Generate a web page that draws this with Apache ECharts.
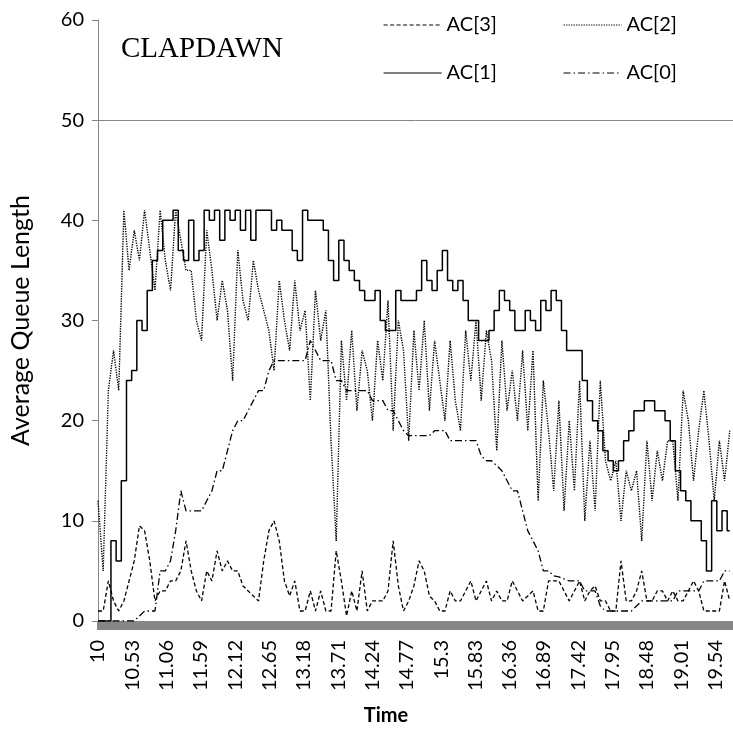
<!DOCTYPE html>
<html>
<head>
<meta charset="utf-8">
<script src="https://cdn.jsdelivr.net/npm/echarts@6/dist/echarts.min.js"></script>
<style>html,body{margin:0;padding:0;background:#fff}#c{width:733px;height:738px}</style>
</head>
<body>
<div id="c"></div>
<script>
// Time (hours) of each sample
const times = [10.00,10.08,10.16,10.24,10.32,10.40,10.48,10.56,10.64,10.72,
10.80,10.88,10.96,11.04,11.12,11.20,11.28,11.36,11.44,11.52,
11.60,11.68,11.76,11.84,11.92,12.00,12.08,12.16,12.24,12.32,
12.40,12.48,12.56,12.64,12.72,12.80,12.88,12.96,13.04,13.12,
13.20,13.28,13.36,13.44,13.52,13.60,13.68,13.76,13.84,13.92,
14.00,14.08,14.16,14.24,14.32,14.40,14.48,14.56,14.64,14.72,
14.80,14.88,14.96,15.04,15.12,15.20,15.28,15.36,15.44,15.52,
15.60,15.68,15.76,15.84,15.92,16.00,16.08,16.16,16.24,16.32,
16.40,16.48,16.56,16.64,16.72,16.80,16.88,16.96,17.04,17.12,
17.20,17.28,17.36,17.44,17.52,17.60,17.68,17.76,17.84,17.92,
18.00,18.08,18.16,18.24,18.32,18.40,18.48,18.56,18.64,18.72,
18.80,18.88,18.96,19.04,19.12,19.20,19.28,19.36,19.44,19.52,
19.60,19.68,19.76];

const tickLabels = ['10','10.53','11.06','11.59','12.12','12.65','13.18','13.71','14.24','14.77',
'15.3','15.83','16.36','16.89','17.42','17.95','18.48','19.01','19.54'];

const ac3 = [1,1,4,2,1,2,4,6,9.5,9,
6,2,3,3,4,4,5,8,5,3,
2,5,4,7,5,6,5,5,3.5,3,
2.5,2,6,9,10,8,4,2.5,4,1,
1,3,1,3,1,1,7,4,0.5,3,
1,5,1,2,2,2,3,8,3.5,1,
2,3.5,6,5,2.5,2,1,1,3,2,
2,3,4,2,3,4,2,3,2,2,
4,3,2,2.5,3,1,1,4,4,4,
3,2,3,4,2,3,3.5,2,2,1,
1,6,2,2,3,5,2,2,3,3,
2,3,2,2,3,4,3,1,1,1,
1,4,2];

const ac2 = [12,5,23,27,23,41,35,39,36,41,
37,33,41,36,33,41,38,35,35,30,
28,39,35,30,34,31,24,37,32,30,
36,33,31,29,25,34,30,27,34,29,
31,22,33,28,31,18,8,28,22,29,
21,27,25,20,28,24,32,19,30,27,
18,29,23,30,21,28,24,20,28,22,
19,29,24,30,22,29,26,17,28,21,
25,20,27,19,27,12,24,19,13,22,
11,20,13,24,10,18,11,24,16,14,
16,10,15,13,15,8,18,12,17,14,
18,18,12,23,20,14,19,23,18,12,
18,14,19];

const ac1 = [0,0,0,8,6,14,24,25,30,29,
33,36,37,40,40,41,37,36,40,36,
37,41,40,41,38,41,40,41,39,41,
38,41,41,41,39,40,39,39,37,36,
41,40,40,40,39,36,34,38,36,35,
34,33,32,32,33,30,29,29,33,32,
32,32,33,36,34,33,35,37,34,33,
34,32,30,30,28,28,29,31,33,32,
31,29,29,31,30,29,32,31,33,32,
29,27,27,27,24,22,20,19,17,16,
15,16,18,19,21,21,22,22,21,21,
20,18,15,13,12,10,10,8,5,12,
9,11,9];

const ac0 = [0,0,0,0,0,0,0,0,0.5,1,
1,1,5,5,6,9,13,11,11,11,
11,12,13,15,15,17,19,20,20,21,
22,23,23,25,26,26,26,26,26,26,
26,28,27,26,26,26,24,24,23,23,
23,23,23,22,22,22,21,21,20,19,
18.5,18.5,18.5,18.5,18.5,19,19,19,18,18,
18,18,18,18,16.5,16,16,15.5,15,14,
13,13,11,9,8,7,5,5,4.5,4.4,
4.2,4,4,4,3,3,3,1.5,1,1,
1,1,1,1,1.5,2,2,2,2,2,
2,2,3,3,3,3,3,4,4,4,
4,5,5];

// x axis runs in hundredths of an hour from 10.00
const toIdx = t => Math.round((t - 10) * 100);
const pairs = vals => times.map((t, i) => [toIdx(t), vals[i]]);

const FONT = 'Lato';
const chart = echarts.init(document.getElementById('c'), null, {renderer: 'canvas'});

function lineSeries(name, vals, dash, width, extra) {
  return Object.assign({
    name: name, type: 'line', data: pairs(vals), symbol: 'none', showSymbol: false,
    animation: false, silent: true,
    lineStyle: {color: '#000', width: width, type: dash, cap: 'butt'},
    itemStyle: {color: '#000'}
  }, extra || {});
}

const legendBase = {left: 378, itemWidth: 58, itemHeight: 20, itemGap: 66,
  itemStyle: {opacity: 0, color: 'rgba(0,0,0,0)', borderWidth: 0},
  lineStyle: {width: 1.2},
  textStyle: {fontFamily: FONT, fontSize: 20, color: '#000'}};

chart.setOption({
  animation: false,
  backgroundColor: '#fff',
  grid: {left: 97, right: 0, top: 20, bottom: 117, containLabel: false},
  title: {text: 'CLAPDAWN', left: 116, top: 30,
    textStyle: {fontFamily: 'Liberation Serif', fontSize: 29, fontWeight: 'normal', color: '#000'}},
  legend: [
    Object.assign({data: ['AC[3]', 'AC[2]'], top: 10}, legendBase),
    Object.assign({data: ['AC[1]', 'AC[0]'], top: 58}, legendBase)
  ],
  xAxis: {
    type: 'value', min: 0, max: 981, interval: 53,
    axisLine: {show: false}, axisTick: {show: false}, splitLine: {show: false},
    axisLabel: {rotate: 90, margin: 19, fontFamily: FONT, fontSize: 20, color: '#000',
      showMaxLabel: false,
      formatter: v => { const j = v / 53; return Number.isInteger(j) && tickLabels[j] ? tickLabels[j] : ''; }}
  },
  yAxis: {
    type: 'value', min: 0, max: 60, interval: 10,
    name: 'Average Queue Length', nameLocation: 'middle', nameGap: 65,
    nameTextStyle: {fontFamily: FONT, fontSize: 25, color: '#000'},
    axisLine: {show: true, lineStyle: {color: '#868686', width: 1}},
    axisTick: {show: true, inside: false, length: 6, lineStyle: {color: '#868686'}},
    splitLine: {show: false},
    axisLabel: {margin: 14, fontFamily: FONT, fontSize: 20, color: '#000'}
  },
  graphic: [
    {type: 'rect', z: 1, silent: true, shape: {x: 97, y: 621, width: 636, height: 9}, style: {fill: '#868686'}},
    {type: 'text', silent: true, x: 386, y: 716,
      style: {text: 'Time', fontFamily: FONT, fontSize: 20, fontWeight: 'bold', fill: '#000',
        align: 'center', verticalAlign: 'middle'}}
  ],
  series: [
    lineSeries('AC[3]', ac3, [4, 2.5], 1.3, {z: 3}),
    lineSeries('AC[2]', ac2, [1.3, 1.2], 1.4, {z: 2}),
    lineSeries('AC[1]', ac1, 'solid', 1.5, {z: 4, step: 'middle',
      markLine: {silent: true, symbol: 'none', label: {show: false}, animation: false,
        lineStyle: {color: '#868686', type: 'solid', width: 1}, data: [{yAxis: 50}]}}),
    lineSeries('AC[0]', ac0, [7, 3, 1.5, 3], 1.3, {z: 3})
  ]
});
</script>
</body>
</html>
